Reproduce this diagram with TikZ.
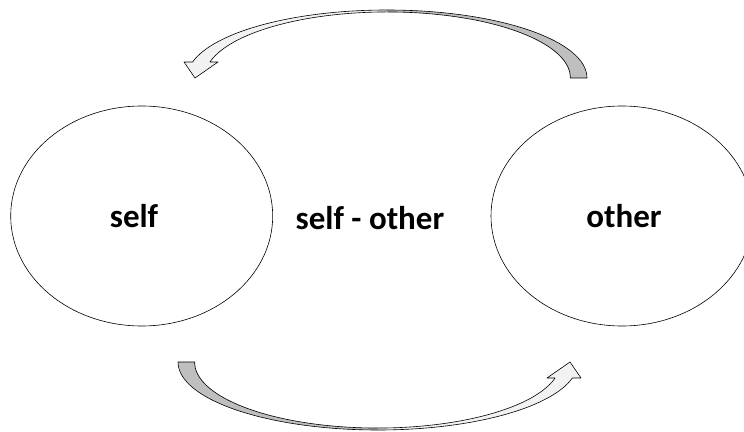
\documentclass[tikz,border=0pt]{standalone}
\usepackage{fontspec}
\setmainfont{Carlito}
\usetikzlibrary{shapes.geometric}
\definecolor{backgray}{HTML}{BFBFBF}
\definecolor{frontgray}{HTML}{F2F2F2}
\begin{document}
\begin{tikzpicture}[x=1pt,y=1pt,
  bubble/.style={ellipse, draw=black, line width=0.6pt, minimum width=262pt, minimum height=220pt, inner sep=0pt},
  lbl/.style={font=\bfseries\fontsize{33}{40}\selectfont, inner sep=0pt, anchor=base},
  edge/.style={draw=black, line width=0.6pt, line join=round},
  ribbon/.pic={
    \fill[backgray] (200,0) arc[start angle=0,end angle=90,x radius=200pt,y radius=68pt]
      -- (0,66) arc[start angle=90,end angle=0,x radius=183pt,y radius=66pt] -- cycle;
    \fill[frontgray] (0,68) arc[start angle=90,end angle=166.4,x radius=200pt,y radius=68pt]
      -- (-203,16) -- (-192,0) -- (-169,16) -- (-177.1,16)
      arc[start angle=166,end angle=90,x radius=183pt,y radius=66pt] -- cycle;
    \path[edge] (183,0) -- (200,0) arc[start angle=0,end angle=166.4,x radius=200pt,y radius=68pt]
      -- (-203,16) -- (-192,0) -- (-169,16) -- (-177.1,16)
      arc[start angle=166,end angle=0,x radius=183pt,y radius=66pt];
  }]
\useasboundingbox (0,0) rectangle (744,431);
\node[bubble] (self) at (141.7,215) {};
\node[bubble] (other) at (622,215) {};
\node[lbl] (selflbl) at (134,203) {self};
\node[lbl] (otherlbl) at (624,203) {other};
\node[lbl] (midlbl) at (370,201) {self - other};
\pic (toparrow) at (387,353) {ribbon};
\pic[rotate=180] (botarrow) at (378,69) {ribbon};
\end{tikzpicture}
\end{document}
